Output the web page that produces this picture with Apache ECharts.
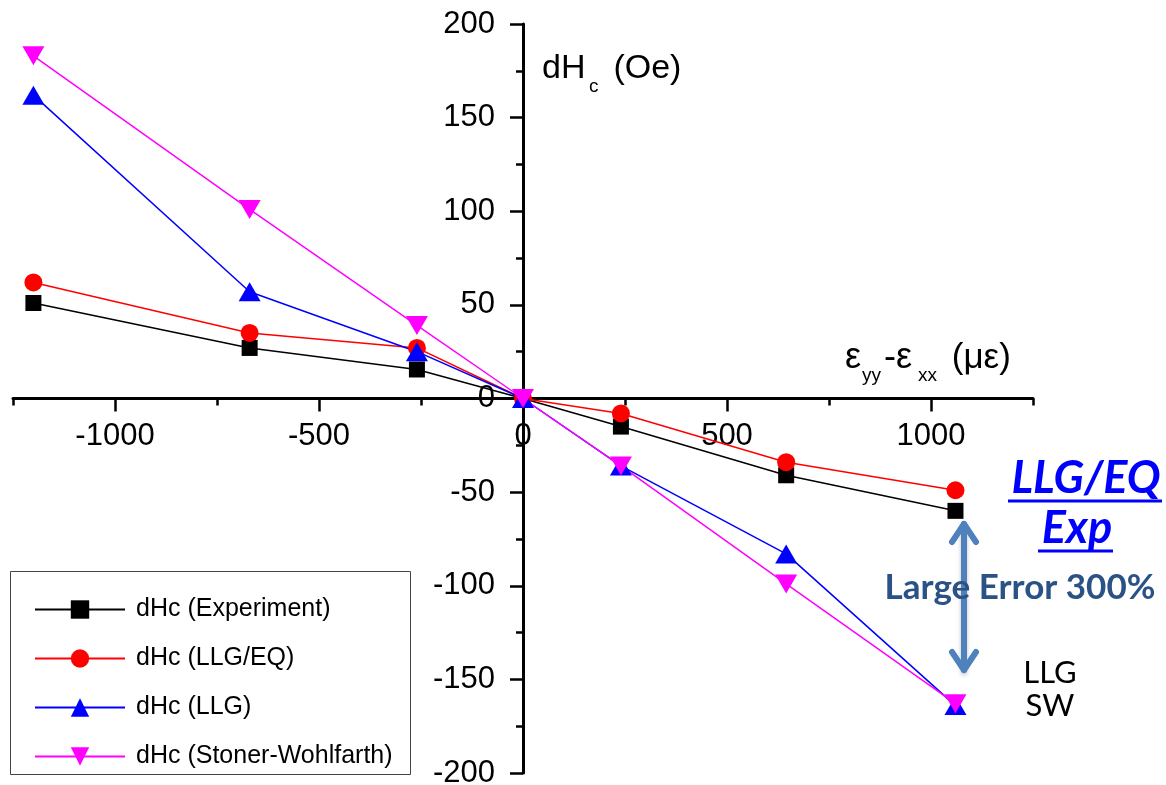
<!DOCTYPE html>
<html>
<head>
<meta charset="utf-8">
<script src="https://cdn.jsdelivr.net/npm/echarts@6/dist/echarts.min.js"></script>
<style>
  html, body { margin: 0; padding: 0; background: #fff; }
  #chart { width: 1166px; height: 785px; }
</style>
</head>
<body>
<div id="chart"></div>
<script>
// strain eyy-exx (micro-strain)
const strain = [-1200, -670, -260, 0, 240, 645, 1060];
// dHc (Oe)
const dhcExp = [51, 27, 15.5, 0, -15, -41, -60];
const dhcLlgEq = [62, 35, 27, 0, -8, -34, -49];
const dhcLlg = [162, 57, 25, 0, -36, -83, -164];
const dhcSw = [183, 101, 39, 0, -36, -99, -163];
const seriesNames = ['dHc (Experiment)', 'dHc (LLG/EQ)', 'dHc (LLG)', 'dHc (Stoner-Wohlfarth)'];
const xMajorTicks = [-1000, -500, 0, 500, 1000];
const xMin = -1250, xMax = 1250;
const yMin = -200, yMax = 200;

const pairs = ys => strain.map((x, i) => [x, ys[i]]);
const font = '"Liberation Sans", Arial, sans-serif';
const calibri = 'Lato, "Open Sans", sans-serif';

// plot box
const gridBox = { left: 13, right: 133, top: 24, bottom: 12 };
const plotW = 1166 - gridBox.left - gridBox.right;
const plotH = 785 - gridBox.top - gridBox.bottom;
// axes cross at zero: shift them from the grid edges
const yAxisShift = -plotW * (0 - xMin) / (xMax - xMin);
const xAxisShift = -plotH * (0 - yMin) / (yMax - yMin);

const chart = echarts.init(document.getElementById('chart'));

const mkSeries = (name, ys, color, symbol, size, rotate) => ({
    name: name,
    type: 'line',
    data: pairs(ys),
    color: color,
    symbol: symbol,
    symbolSize: size,
    symbolRotate: rotate || 0,
    lineStyle: { width: 1.5, color: color },
    itemStyle: { color: color },
    z: 3
});

const option = {
    animation: false,
    backgroundColor: '#fff',
    grid: Object.assign({ outerBoundsMode: 'none', containLabel: false }, gridBox),
    legend: {
        orient: 'vertical',
        left: 34,
        top: 597,
        padding: 0,
        itemWidth: 90,
        itemHeight: 23,
        itemGap: 24,
        data: seriesNames,
        textStyle: { fontFamily: font, fontSize: 25, color: '#000', lineHeight: 24, padding: [0, 0, 0, 6] }
    },
    xAxis: [
        {
            type: 'value',
            min: xMin,
            max: xMax,
            interval: 250,
            position: 'bottom',
            offset: xAxisShift,
            axisLine: { onZero: false, lineStyle: { color: '#000', width: 3 } },
            axisTick: { length: 7, lineStyle: { color: '#000', width: 2.5 } },
            axisLabel: {
                margin: 22,
                fontFamily: font,
                fontSize: 31,
                color: '#000',
                formatter: v => (v % 500 === 0 ? String(v) : '')
            },
            splitLine: { show: false }
        },
        {
            type: 'value',
            min: xMin,
            max: xMax,
            position: 'bottom',
            offset: xAxisShift,
            axisLine: { show: false, onZero: false },
            axisTick: { customValues: xMajorTicks, length: 13, lineStyle: { color: '#000', width: 2.5 } },
            axisLabel: { show: false },
            splitLine: { show: false }
        }
    ],
    yAxis: {
        type: 'value',
        min: yMin,
        max: yMax,
        interval: 50,
        position: 'left',
        offset: yAxisShift,
        axisLine: { show: true, onZero: false, lineStyle: { color: '#000', width: 3 } },
        axisTick: { show: true, length: 13, lineStyle: { color: '#000', width: 2.5 } },
        minorTick: { show: true, splitNumber: 2, length: 7, lineStyle: { color: '#000', width: 2.5 } },
        axisLabel: { margin: 28, fontFamily: font, fontSize: 31, color: '#000' },
        splitLine: { show: false }
    },
    series: [
        mkSeries(seriesNames[0], dhcExp, '#000000', 'rect', 16),
        mkSeries(seriesNames[1], dhcLlgEq, '#ff0000', 'circle', 18),
        mkSeries(seriesNames[2], dhcLlg, '#0000ff', 'triangle', [22, 19]),
        mkSeries(seriesNames[3], dhcSw, '#ff00ff', 'triangle', [22, 19], 180)
    ],
    graphic: [
        // legend frame
        { type: 'rect', shape: { x: 10.5, y: 571.5, width: 400, height: 203 }, style: { fill: '#fff', stroke: '#444', lineWidth: 1 }, z: 1 },
        // y axis title dHc (Oe)
        { type: 'text', x: 542, y: 69, style: { text: 'dH', font: '34px ' + font, fill: '#000', verticalAlign: 'middle' } },
        { type: 'text', x: 589, y: 87, style: { text: 'c', font: '19px ' + font, fill: '#000', verticalAlign: 'middle' } },
        { type: 'text', x: 604, y: 69, style: { text: ' (Oe)', font: '34px ' + font, fill: '#000', verticalAlign: 'middle' } },
        // x axis title
        { type: 'text', x: 845, y: 358, style: { text: 'ε', font: '36px ' + font, fill: '#000', verticalAlign: 'middle' } },
        { type: 'text', x: 862, y: 376, style: { text: 'yy', font: '19px ' + font, fill: '#000', verticalAlign: 'middle' } },
        { type: 'text', x: 884, y: 358, style: { text: '-ε', font: '36px ' + font, fill: '#000', verticalAlign: 'middle' } },
        { type: 'text', x: 918, y: 376, style: { text: 'xx', font: '19px ' + font, fill: '#000', verticalAlign: 'middle' } },
        { type: 'text', x: 942, y: 358, style: { text: ' (με)', font: '35px ' + font, fill: '#000', verticalAlign: 'middle' } },
        // ratio label
        { type: 'text', x: 1086, y: 478, style: { text: 'LLG/EQ', font: 'italic bold 45px ' + calibri, fill: '#0000ff', align: 'center', verticalAlign: 'middle' } },
        { type: 'line', shape: { x1: 1008, y1: 501, x2: 1162, y2: 501 }, style: { stroke: '#0000ff', lineWidth: 3 } },
        { type: 'text', x: 1077, y: 528, style: { text: 'Exp', font: 'italic bold 45px ' + calibri, fill: '#0000ff', align: 'center', verticalAlign: 'middle' } },
        { type: 'line', shape: { x1: 1038, y1: 551, x2: 1113, y2: 551 }, style: { stroke: '#0000ff', lineWidth: 3 } },
        // double arrow
        { type: 'line', shape: { x1: 964, y1: 524, x2: 964, y2: 670 }, style: { stroke: '#4f81bd', lineWidth: 6, lineCap: 'round', shadowBlur: 4, shadowColor: 'rgba(0,0,0,0.25)', shadowOffsetY: 2 } },
        { type: 'polyline', shape: { points: [[952, 542], [964, 524], [976, 542]] }, style: { stroke: '#4f81bd', lineWidth: 6, lineCap: 'round', lineJoin: 'round', fill: null } },
        { type: 'polyline', shape: { points: [[952, 652], [964, 670], [976, 652]] }, style: { stroke: '#4f81bd', lineWidth: 6, lineCap: 'round', lineJoin: 'round', fill: null } },
        { type: 'text', x: 1020, y: 588, style: { text: 'Large Error 300%', font: 'bold 35px ' + calibri, fill: '#2a5284', align: 'center', verticalAlign: 'middle' } },
        // model labels
        { type: 'text', x: 1050, y: 673, style: { text: 'LLG', font: '31px ' + calibri, fill: '#000', align: 'center', verticalAlign: 'middle' } },
        { type: 'text', x: 1050, y: 706, style: { text: 'SW', font: '31px ' + calibri, fill: '#000', align: 'center', verticalAlign: 'middle' } }
    ]
};

chart.setOption(option);
</script>
</body>
</html>
